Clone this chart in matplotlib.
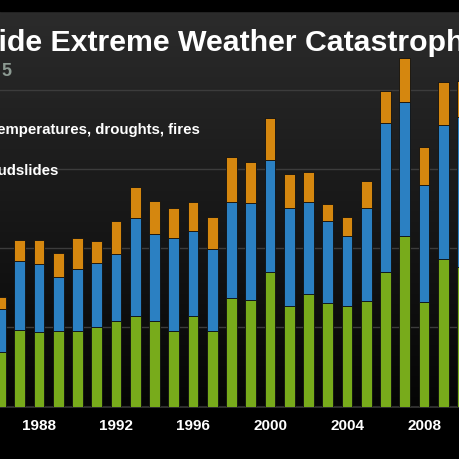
import numpy as np
import matplotlib
matplotlib.use("Agg")
import matplotlib.pyplot as plt

years = list(range(1986, 2011))
storms = [137, 194, 188, 192, 190, 201, 215, 229, 216, 190, 228, 192, 275,
          270, 341, 253, 285, 261, 255, 266, 340, 432, 264, 372, 352]
floods = [110, 175, 173, 135, 158, 161, 170, 248, 219, 236, 215, 205, 243,
          244, 282, 250, 232, 208, 175, 235, 377, 337, 295, 341, 380]
heat = [29, 51, 59, 61, 79, 57, 84, 78, 84, 76, 74, 83, 112,
        104, 107, 86, 77, 43, 49, 70, 80, 112, 98, 107, 92]
tick_years = [1988, 1992, 1996, 2000, 2004, 2008]

title = "Worldwide Extreme Weather Catastrophes"
legend_labels = ["Extreme temperatures, droughts, fires", "Floods, mudslides"]

green = "#78ab1b"
blue = "#2b80c2"
orange = "#d5870f"

W = 460.0
fig = plt.figure(figsize=(4.6, 4.6), dpi=100)
fig.patch.set_facecolor("black")

# background gradient (dark grey at top to black at the baseline)
bg = fig.add_axes([0, 0, 1, 1], zorder=0)
grad = np.linspace(0, 1, 256).reshape(-1, 1)
top_c = np.array([0.17, 0.17, 0.17])
bot_c = np.array([0.02, 0.02, 0.02])
img = top_c + (bot_c - top_c) * grad[..., None]
bg.imshow(img, extent=[0, 1, (W - 408) / W, (W - 12) / W], aspect="auto")
bg.set_xlim(0, 1)
bg.set_ylim(0, 1)
bg.axis("off")

# plotting area: 1988 at x=39px, 19.25px per year
px_year = 19.25
x0 = 1988 - 39 / px_year
x1 = x0 + W / px_year
ax = fig.add_axes([0, (W - 407.5) / W, 1, (407.5 - 12) / W], zorder=1)
ax.patch.set_alpha(0)
ax.set_xlim(x0, x1)
ax.set_ylim(0, 1000)

w = 0.57
s = np.array(storms)
f = np.array(floods)
h = np.array(heat)
kw = dict(width=w, edgecolor="#101010", linewidth=0.6, zorder=3)
ax.bar(years, s, color=green, **kw)
ax.bar(years, f, bottom=s, color=blue, **kw)
ax.bar(years, h, bottom=s + f, color=orange, **kw)

ax.set_yticks([200, 400, 600, 800])
ax.yaxis.grid(True, color="#3c3c3c", linewidth=1.0, zorder=0)
ax.tick_params(axis="y", length=0, labelleft=False)
ax.set_xticks(tick_years)
ax.set_xticklabels([str(y) for y in tick_years], color="white",
                   fontsize=11, fontweight="bold", family="Liberation Sans")
ax.tick_params(axis="x", length=0, pad=8)
for sp in ["top", "right", "left"]:
    ax.spines[sp].set_visible(False)
ax.spines["bottom"].set_color("#2e2e2e")
ax.spines["bottom"].set_linewidth(1.5)

# title, cut off at the left edge like the source
renderer = fig.canvas.get_renderer()
tsize = 21.8
tfont = dict(fontsize=tsize, fontweight="bold", family="Liberation Sans")
tmp = fig.text(0, 0, title[title.index("ide "):], **tfont)
tail_w = tmp.get_window_extent(renderer).width
tmp.remove()
fig.text((tail_w - 1) / W, (W - 43) / W, title, color="white",
         va="center", ha="right", **tfont)

fig.text(11 / W, (W - 72) / W, "5", color="#8c9a92", fontsize=13,
         fontweight="bold", family="Liberation Sans", va="center", ha="right")

fig.text(200 / W, (W - 130) / W, legend_labels[0], color="white",
         fontsize=10.8, family="Liberation Sans", fontweight="bold",
         va="center", ha="right")
fig.text(58 / W, (W - 171) / W, legend_labels[1], color="white",
         fontsize=10.8, family="Liberation Sans", fontweight="bold",
         va="center", ha="right")

# black strip at the very top
fig.patches.append(plt.Rectangle((0, (W - 12) / W), 1, 12 / W,
                                 transform=fig.transFigure, color="black",
                                 zorder=5))

fig.savefig("out.png", dpi=100, facecolor="black")
